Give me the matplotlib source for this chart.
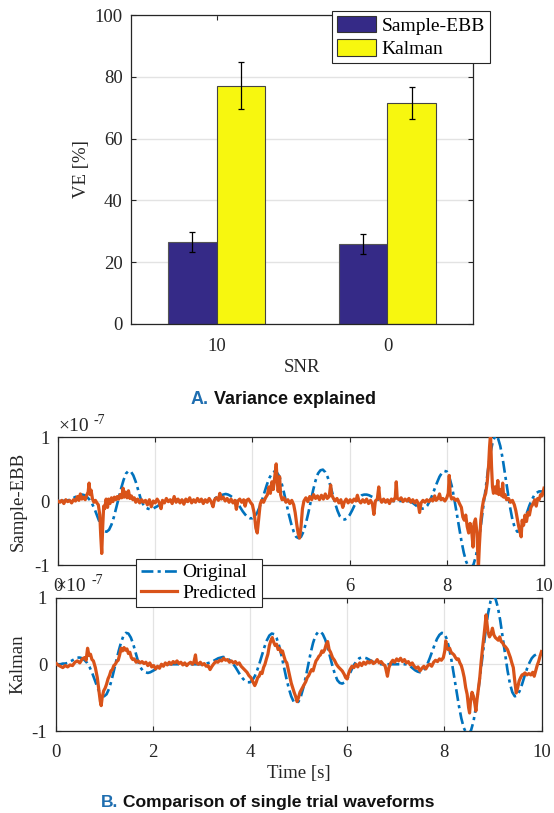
import numpy as np
import matplotlib
matplotlib.use('Agg')
import matplotlib.pyplot as plt
from matplotlib.patches import Patch
from matplotlib.lines import Line2D

# ---------------- data: panel A ----------------
snr_labels = ['10', '0']
ve_sample_ebb = [26.6, 25.9]
ve_sample_ebb_err = [3.2, 3.1]
ve_kalman = [77.1, 71.5]
ve_kalman_err = [7.6, 5.1]

# ---------------- data: panel B (values in units of 1e-7) ----------------
# original waveform sampled every 0.05 s from 0 to 10 s (one row = 0.5 s)
original = [
    0.00, 0.00, 0.00, 0.01, 0.01, 0.02, 0.04, 0.06, 0.08, 0.10,
    0.10, 0.09, 0.06, 0.02, -0.04, -0.12, -0.22, -0.32, -0.41, -0.47,
    -0.48, -0.45, -0.37, -0.25, -0.10, 0.05, 0.20, 0.33, 0.43, 0.47,
    0.46, 0.40, 0.30, 0.17, 0.04, -0.05, -0.10, -0.12, -0.13, -0.12,
    -0.10, -0.08, -0.05, -0.03, -0.01, 0.00, 0.00, 0.00, 0.00, 0.00,
    0.00, 0.00, 0.00, 0.00, 0.00, 0.00, 0.00, 0.00, 0.00, 0.00,
    0.00, 0.00, 0.01, 0.02, 0.03, 0.05, 0.07, 0.09, 0.10, 0.11,
    0.10, 0.08, 0.05, 0.01, -0.04, -0.10, -0.16, -0.21, -0.25, -0.27,
    -0.27, -0.24, -0.18, -0.09, 0.02, 0.14, 0.26, 0.36, 0.43, 0.46,
    0.45, 0.39, 0.28, 0.13, -0.04, -0.21, -0.36, -0.48, -0.56, -0.58,
    -0.56, -0.48, -0.35, -0.19, -0.01, 0.17, 0.32, 0.43, 0.48, 0.49,
    0.45, 0.37, 0.25, 0.11, -0.03, -0.15, -0.24, -0.28, -0.29, -0.27,
    -0.22, -0.15, -0.07, 0.00, 0.05, 0.09, 0.10, 0.10, 0.09, 0.07,
    0.05, 0.03, 0.02, 0.01, 0.00, 0.00, 0.00, 0.00, 0.00, 0.00,
    0.00, 0.00, 0.00, 0.00, 0.00, -0.01, -0.03, -0.06, -0.09, -0.11,
    -0.12, -0.11, -0.07, 0.00, 0.09, 0.19, 0.29, 0.38, 0.44, 0.47,
    0.46, 0.38, 0.24, 0.05, -0.17, -0.40, -0.62, -0.81, -0.95, -1.03,
    -1.05, -0.99, -0.86, -0.65, -0.39, -0.10, 0.20, 0.50, 0.76, 0.94,
    1.02, 0.99, 0.86, 0.66, 0.41, 0.15, -0.09, -0.29, -0.42, -0.48,
    -0.47, -0.40, -0.30, -0.18, -0.07, 0.02, 0.09, 0.13, 0.15, 0.15,
    0.14,
]

# Sample-EBB prediction: (time [s], value)
pred_ebb = [
    (0.00, 0.00), (0.04, -0.02), (0.08, 0.01), (0.12, -0.04), (0.16, 0.02), (0.20, -0.01),
    (0.24, 0.01), (0.28, -0.03), (0.32, 0.02), (0.36, 0.00), (0.40, 0.07), (0.43, 0.01),
    (0.46, 0.11), (0.49, 0.03), (0.52, 0.06), (0.56, 0.02), (0.59, 0.09), (0.62, 0.14),
    (0.64, 0.28), (0.66, 0.10), (0.68, 0.17), (0.71, 0.03), (0.74, -0.02), (0.77, 0.01),
    (0.80, -0.03), (0.83, -0.06), (0.86, -0.22), (0.88, -0.55), (0.90, -0.82), (0.92, -0.40),
    (0.94, -0.08), (0.96, -0.12), (0.99, 0.03), (1.02, -0.10), (1.04, 0.03), (1.07, -0.04),
    (1.10, 0.05), (1.13, -0.01), (1.16, 0.06), (1.19, 0.02), (1.22, 0.07), (1.25, 0.03),
    (1.28, 0.10), (1.31, 0.05), (1.34, 0.20), (1.36, 0.06), (1.39, 0.14), (1.42, 0.05),
    (1.45, 0.16), (1.48, 0.04), (1.51, 0.08), (1.54, 0.02), (1.57, 0.05), (1.60, -0.02),
    (1.64, 0.03), (1.68, -0.03), (1.72, 0.02), (1.76, -0.02), (1.80, 0.01), (1.84, -0.06),
    (1.88, 0.02), (1.92, -0.09), (1.96, 0.00), (2.00, -0.03), (2.04, 0.03), (2.08, -0.02),
    (2.12, -0.12), (2.15, 0.01), (2.19, -0.03), (2.23, 0.04), (2.27, -0.01), (2.31, 0.02),
    (2.35, -0.04), (2.39, 0.07), (2.43, -0.02), (2.47, 0.03), (2.51, -0.03), (2.55, 0.02),
    (2.59, -0.05), (2.63, 0.03), (2.67, -0.01), (2.71, 0.05), (2.75, -0.03), (2.79, 0.02),
    (2.83, -0.02), (2.87, 0.04), (2.91, -0.01), (2.95, 0.03), (2.99, -0.04), (3.03, 0.02),
    (3.07, -0.02), (3.11, 0.04), (3.15, -0.01), (3.19, -0.09), (3.22, 0.02), (3.26, 0.05),
    (3.30, 0.01), (3.33, 0.12), (3.36, 0.03), (3.40, 0.06), (3.44, 0.00), (3.48, 0.04),
    (3.52, -0.02), (3.56, 0.03), (3.60, -0.03), (3.64, 0.01), (3.67, -0.13), (3.70, 0.00),
    (3.74, 0.03), (3.78, -0.02), (3.82, 0.02), (3.85, -0.08), (3.88, 0.01), (3.92, 0.03),
    (3.96, -0.02), (4.00, -0.06), (4.04, -0.20), (4.07, -0.42), (4.10, -0.50), (4.13, -0.28),
    (4.16, -0.05), (4.19, 0.01), (4.23, -0.02), (4.27, 0.05), (4.31, 0.10), (4.34, 0.22),
    (4.37, 0.12), (4.40, 0.30), (4.43, 0.18), (4.46, 0.38), (4.49, 0.58), (4.51, 0.30),
    (4.53, 0.15), (4.56, 0.38), (4.58, 0.10), (4.61, 0.02), (4.65, 0.05), (4.69, -0.02),
    (4.73, 0.02), (4.77, -0.04), (4.81, 0.01), (4.85, -0.06), (4.88, -0.18), (4.91, -0.35),
    (4.94, -0.50), (4.97, -0.58), (5.00, -0.40), (5.03, -0.12), (5.06, 0.00), (5.10, 0.05),
    (5.14, -0.01), (5.18, 0.07), (5.22, 0.02), (5.26, 0.10), (5.30, 0.04), (5.34, 0.08),
    (5.38, 0.02), (5.42, 0.09), (5.46, 0.03), (5.50, 0.11), (5.54, 0.04), (5.58, 0.07),
    (5.61, 0.25), (5.63, 0.10), (5.66, 0.05), (5.70, 0.00), (5.74, 0.04), (5.78, -0.03),
    (5.82, 0.02), (5.86, -0.10), (5.89, -0.02), (5.93, 0.03), (5.97, -0.03), (6.01, 0.02),
    (6.05, -0.02), (6.09, 0.03), (6.13, 0.00), (6.16, 0.09), (6.19, 0.01), (6.23, -0.03),
    (6.27, 0.02), (6.31, -0.02), (6.35, 0.03), (6.39, -0.04), (6.43, 0.01), (6.47, -0.05),
    (6.50, -0.21), (6.53, 0.00), (6.57, 0.03), (6.60, 0.22), (6.62, 0.05), (6.66, -0.02),
    (6.70, 0.03), (6.74, -0.02), (6.78, 0.02), (6.82, -0.04), (6.86, 0.03), (6.90, 0.00),
    (6.94, 0.06), (6.96, 0.30), (6.98, 0.04), (7.02, 0.02), (7.06, 0.05), (7.10, -0.01),
    (7.14, 0.03), (7.18, 0.00), (7.22, 0.04), (7.26, -0.02), (7.30, 0.02), (7.34, -0.03),
    (7.38, 0.01), (7.41, -0.04), (7.44, -0.18), (7.47, -0.03), (7.51, 0.01), (7.55, -0.02),
    (7.59, 0.02), (7.63, -0.01), (7.67, 0.03), (7.71, 0.00), (7.75, 0.08), (7.78, 0.01),
    (7.82, 0.04), (7.85, 0.11), (7.88, 0.02), (7.92, 0.04), (7.96, 0.00), (8.00, 0.05),
    (8.03, 0.12), (8.05, 0.40), (8.07, 0.10), (8.10, 0.03), (8.14, 0.05), (8.18, 0.01),
    (8.22, 0.03), (8.26, -0.04), (8.30, -0.10), (8.33, -0.25), (8.36, -0.30), (8.39, -0.22),
    (8.42, -0.40), (8.45, -0.50), (8.48, -0.35), (8.51, -0.45), (8.54, -0.72), (8.56, -0.35),
    (8.59, -0.28), (8.62, -0.50), (8.65, -1.05), (8.67, -0.70), (8.70, -0.30), (8.73, -0.10),
    (8.76, 0.03), (8.80, 0.12), (8.83, 0.28), (8.86, 0.55), (8.88, 0.85), (8.90, 1.05),
    (8.92, 0.55), (8.94, 0.22), (8.96, 0.12), (8.99, 0.22), (9.02, 0.12), (9.05, 0.32),
    (9.07, 0.10), (9.10, 0.18), (9.13, 0.08), (9.15, 0.28), (9.17, 0.06), (9.20, 0.10),
    (9.23, 0.02), (9.27, 0.04), (9.31, -0.02), (9.35, 0.01), (9.39, -0.06), (9.42, -0.15),
    (9.45, -0.28), (9.48, -0.40), (9.51, -0.50), (9.53, -0.56), (9.55, -0.30), (9.58, -0.38),
    (9.61, -0.22), (9.64, -0.32), (9.67, -0.18), (9.70, -0.22), (9.73, -0.10), (9.77, -0.05),
    (9.81, 0.02), (9.84, -0.08), (9.87, 0.04), (9.90, 0.02), (9.93, 0.10), (9.96, 0.08),
    (10.00, 0.20),
]

# Kalman prediction: (time [s], value)
pred_kalman = [
    (0.00, 0.02), (0.05, -0.01), (0.10, -0.03), (0.15, -0.05), (0.20, -0.02), (0.25, -0.04),
    (0.30, -0.01), (0.35, -0.02), (0.40, 0.03), (0.45, 0.05), (0.50, 0.02), (0.55, 0.08),
    (0.60, 0.10), (0.63, 0.06), (0.66, 0.24), (0.69, 0.13), (0.72, 0.15), (0.75, 0.07),
    (0.78, 0.05), (0.82, -0.05), (0.86, -0.20), (0.89, -0.38), (0.92, -0.55), (0.94, -0.62),
    (0.96, -0.50), (0.99, -0.40), (1.02, -0.36), (1.05, -0.30), (1.08, -0.22), (1.11, -0.17),
    (1.14, -0.10), (1.17, -0.08), (1.20, -0.02), (1.23, 0.00), (1.26, 0.04), (1.29, 0.06),
    (1.32, 0.14), (1.35, 0.24), (1.38, 0.20), (1.41, 0.25), (1.44, 0.21), (1.47, 0.23),
    (1.50, 0.16), (1.53, 0.18), (1.56, 0.10), (1.59, 0.07), (1.62, 0.08), (1.66, 0.03),
    (1.70, 0.05), (1.74, 0.02), (1.78, 0.04), (1.82, 0.01), (1.86, 0.03), (1.90, -0.02),
    (1.94, 0.02), (1.98, -0.04), (2.02, -0.02), (2.06, -0.07), (2.10, -0.03), (2.14, -0.06),
    (2.18, 0.00), (2.22, -0.03), (2.26, 0.02), (2.30, -0.01), (2.34, 0.03), (2.38, 0.00),
    (2.42, 0.04), (2.46, 0.02), (2.50, 0.05), (2.54, 0.01), (2.58, 0.03), (2.62, -0.01),
    (2.66, 0.02), (2.70, -0.02), (2.74, 0.01), (2.78, 0.03), (2.82, 0.00), (2.85, 0.04),
    (2.88, 0.14), (2.90, 0.02), (2.94, 0.00), (2.98, 0.03), (3.02, -0.01), (3.06, 0.01),
    (3.10, -0.03), (3.14, -0.02), (3.18, -0.08), (3.22, -0.03), (3.26, 0.01), (3.30, 0.04),
    (3.34, 0.03), (3.38, 0.06), (3.42, 0.05), (3.46, 0.09), (3.50, 0.06), (3.54, 0.07),
    (3.58, 0.03), (3.62, 0.05), (3.66, 0.02), (3.70, 0.04), (3.74, 0.00), (3.78, 0.02),
    (3.82, -0.03), (3.86, -0.06), (3.90, -0.09), (3.94, -0.12), (3.98, -0.17), (4.02, -0.20),
    (4.06, -0.26), (4.10, -0.32), (4.13, -0.27), (4.16, -0.20), (4.19, -0.18), (4.22, -0.12),
    (4.25, -0.14), (4.28, -0.05), (4.31, 0.00), (4.34, 0.08), (4.37, 0.15), (4.40, 0.28),
    (4.43, 0.35), (4.46, 0.40), (4.49, 0.33), (4.52, 0.28), (4.55, 0.30), (4.58, 0.22),
    (4.61, 0.24), (4.64, 0.18), (4.67, 0.20), (4.70, 0.12), (4.73, 0.05), (4.76, 0.02),
    (4.79, -0.08), (4.82, -0.18), (4.85, -0.28), (4.88, -0.35), (4.91, -0.42), (4.94, -0.48),
    (4.97, -0.56), (5.00, -0.50), (5.03, -0.42), (5.06, -0.38), (5.09, -0.34), (5.12, -0.30),
    (5.15, -0.26), (5.18, -0.20), (5.21, -0.17), (5.24, -0.12), (5.27, -0.08), (5.30, -0.10),
    (5.33, -0.02), (5.36, 0.05), (5.39, 0.08), (5.42, 0.12), (5.45, 0.14), (5.48, 0.20),
    (5.51, 0.18), (5.54, 0.22), (5.57, 0.30), (5.60, 0.34), (5.63, 0.22), (5.66, 0.18),
    (5.70, 0.10), (5.74, 0.06), (5.78, 0.00), (5.82, -0.04), (5.86, -0.07), (5.90, -0.10),
    (5.94, -0.15), (5.97, -0.20), (6.00, -0.22), (6.03, -0.14), (6.06, -0.08), (6.10, -0.03),
    (6.14, -0.05), (6.18, 0.00), (6.22, -0.04), (6.26, 0.02), (6.30, -0.02), (6.34, 0.03),
    (6.38, 0.00), (6.42, 0.04), (6.46, 0.02), (6.50, 0.05), (6.54, 0.01), (6.58, 0.03),
    (6.62, 0.07), (6.66, 0.02), (6.70, 0.04), (6.74, 0.00), (6.78, -0.02), (6.80, -0.08),
    (6.83, -0.18), (6.86, -0.05), (6.90, 0.02), (6.94, 0.06), (6.98, 0.03), (7.02, 0.08),
    (7.06, 0.05), (7.10, 0.09), (7.14, 0.04), (7.18, 0.07), (7.22, 0.02), (7.26, 0.04),
    (7.30, -0.01), (7.34, 0.02), (7.38, -0.03), (7.42, -0.06), (7.46, -0.04), (7.50, -0.10),
    (7.54, -0.06), (7.58, -0.03), (7.62, -0.07), (7.66, -0.02), (7.70, 0.00), (7.74, -0.03),
    (7.78, 0.03), (7.82, 0.06), (7.86, 0.04), (7.90, 0.08), (7.94, 0.06), (7.98, 0.10),
    (8.01, 0.20), (8.03, 0.35), (8.05, 0.25), (8.08, 0.22), (8.11, 0.24), (8.14, 0.18),
    (8.17, 0.16), (8.20, 0.14), (8.23, 0.10), (8.26, 0.07), (8.29, 0.08), (8.32, 0.02),
    (8.35, -0.02), (8.38, -0.10), (8.41, -0.20), (8.44, -0.35), (8.47, -0.45), (8.50, -0.65),
    (8.52, -0.73), (8.54, -0.55), (8.57, -0.42), (8.60, -0.48), (8.63, -0.60), (8.65, -0.70),
    (8.67, -0.55), (8.70, -0.38), (8.73, -0.20), (8.76, 0.05), (8.79, 0.26), (8.82, 0.45),
    (8.84, 0.60), (8.86, 0.74), (8.88, 0.60), (8.90, 0.48), (8.93, 0.41), (8.96, 0.45),
    (8.99, 0.54), (9.02, 0.44), (9.05, 0.40), (9.08, 0.38), (9.11, 0.36), (9.14, 0.41),
    (9.17, 0.34), (9.20, 0.32), (9.23, 0.28), (9.26, 0.26), (9.30, 0.22), (9.33, 0.16),
    (9.36, 0.10), (9.39, 0.02), (9.42, -0.05), (9.45, -0.25), (9.48, -0.43), (9.51, -0.35),
    (9.54, -0.25), (9.57, -0.20), (9.60, -0.16), (9.63, -0.15), (9.66, -0.13), (9.70, -0.16),
    (9.74, -0.14), (9.78, -0.16), (9.82, -0.12), (9.85, -0.18), (9.88, -0.10), (9.91, -0.02),
    (9.94, 0.04), (9.97, 0.12), (10.00, 0.19),
]

time_ticks = [0, 2, 4, 6, 8, 10]
wave_yticks = [-1, 0, 1]
ve_yticks = [0, 20, 40, 60, 80, 100]

# ---------------- style ----------------
plt.rcParams['font.family'] = ['Liberation Serif', 'DejaVu Serif']
plt.rcParams['axes.unicode_minus'] = False
FS = 13.5
AX_COL = '#262626'
GRID_COL = '#e3e3e3'
BLUE_BAR = '#352a87'
YELLOW_BAR = '#f7f70f'
ORIG_COL = '#0072bd'
PRED_COL = '#d95319'
TITLE_BLUE = '#1f6eb0'

W, H = 554, 813
fig = plt.figure(figsize=(W / 100, H / 100), dpi=100)


def px_axes(left, top, right, bottom):
    return fig.add_axes([left / W, 1 - bottom / H, (right - left) / W, (bottom - top) / H])


def style_axes(ax, xpad=6):
    for s in ax.spines.values():
        s.set_color(AX_COL)
        s.set_linewidth(0.9)
    ax.tick_params(direction='in', length=3.5, width=0.8, color=AX_COL,
                   top=True, right=True, labelsize=FS, labelcolor=AX_COL, pad=6)
    ax.tick_params(axis='x', pad=xpad)


# ---------------- panel A ----------------
axA = px_axes(131, 15, 473, 324)
x = np.arange(1, len(snr_labels) + 1)
bw = 0.286
err_kw = dict(elinewidth=0.9, capthick=0.9, ecolor='black')
axA.bar(x - bw / 2, ve_sample_ebb, bw, yerr=ve_sample_ebb_err, color=BLUE_BAR,
        edgecolor='#555555', linewidth=0.8, capsize=2, error_kw=err_kw, zorder=2)
axA.bar(x + bw / 2, ve_kalman, bw, yerr=ve_kalman_err, color=YELLOW_BAR,
        edgecolor='#444444', linewidth=0.8, capsize=2, error_kw=err_kw, zorder=2)
axA.set_xlim(0.5, 2.5)
axA.set_ylim(0, 100)
axA.set_xticks(x)
axA.set_xticklabels(snr_labels)
axA.set_yticks(ve_yticks)
axA.yaxis.grid(True, color=GRID_COL, linewidth=1.0)
axA.set_axisbelow(True)
style_axes(axA, xpad=10)
axA.set_ylabel('VE [%]', fontsize=FS, color=AX_COL)
axA.set_xlabel('SNR', fontsize=FS, color=AX_COL)
axA.yaxis.set_label_coords((90 - 131) / 342, 0.5)
axA.xaxis.set_label_coords(0.5, -(359 - 324) / 309)

handlesA = [Patch(facecolor=BLUE_BAR, edgecolor='#333333', linewidth=0.8, label='Sample-EBB'),
            Patch(facecolor=YELLOW_BAR, edgecolor='#333333', linewidth=0.8, label='Kalman')]
legA = axA.legend(handles=handlesA, loc='upper left', bbox_to_anchor=(332 / W, 1 - 11 / H),
                  bbox_transform=fig.transFigure, fontsize=14, frameon=True, fancybox=False,
                  edgecolor=AX_COL, framealpha=1, borderpad=0.25, handlelength=2.0,
                  handleheight=0.9, handletextpad=0.3, labelspacing=0.25, borderaxespad=0)
legA.get_frame().set_linewidth(0.8)

# ---------------- panel B ----------------
t_orig = np.linspace(0, 10, len(original))
ebb_t = [p[0] for p in pred_ebb]
ebb_v = [p[1] for p in pred_ebb]
kal_t = [p[0] for p in pred_kalman]
kal_v = [p[1] for p in pred_kalman]

axB1 = px_axes(58, 437, 544, 565)
axB2 = px_axes(55.5, 597.5, 541.5, 731)

DASH = (0, (4.5, 1.6, 1.2, 1.6))
for ax, tt, vv, lab in [(axB1, ebb_t, ebb_v, 'Sample-EBB'), (axB2, kal_t, kal_v, 'Kalman')]:
    ax.plot(t_orig, original, color=ORIG_COL, linewidth=1.9, linestyle=DASH, zorder=3)
    ax.plot(tt, vv, color=PRED_COL, linewidth=2.3, zorder=4)
    ax.set_xlim(0, 10)
    ax.set_ylim(-1, 1)
    ax.set_xticks(time_ticks)
    ax.set_yticks(wave_yticks)
    ax.grid(True, color=GRID_COL, linewidth=0.9)
    ax.set_axisbelow(True)
    style_axes(ax, xpad=9)
    ax.set_ylabel(lab, fontsize=FS, color=AX_COL)

axB1.yaxis.set_label_coords((27 - 58) / 486, 0.5)
axB2.yaxis.set_label_coords((26 - 55.5) / 486, 0.5)
axB2.set_xlabel('Time [s]', fontsize=FS, color=AX_COL)
axB2.xaxis.set_label_coords(0.5, -(765 - 731) / 133.5)

# exponent labels
for (x0, yc) in [(58, 426), (55, 586)]:
    fig.text(x0 / W, 1 - yc / H, '\u00d710', fontsize=FS + 0.5, color=AX_COL, ha='left', va='center')
    fig.text((x0 + 36) / W, 1 - (yc - 6) / H, '-7', fontsize=10, color=AX_COL,
             ha='left', va='center')

handlesB = [Line2D([], [], color=ORIG_COL, linewidth=1.9, linestyle=DASH, label='Original'),
            Line2D([], [], color=PRED_COL, linewidth=2.3, label='Predicted')]
legB = fig.legend(handles=handlesB, loc='upper left', bbox_to_anchor=(136 / W, 1 - 559 / H),
                  fontsize=14, frameon=True, fancybox=False, edgecolor=AX_COL, framealpha=1,
                  borderpad=0.25, handlelength=1.85, handletextpad=0.3, labelspacing=0.15,
                  borderaxespad=0)
legB.get_frame().set_linewidth(0.8)
legB.set_zorder(10)

# ---------------- titles ----------------
renderer = fig.canvas.get_renderer()


def two_color_title(cx, cy, first, rest, size):
    t1 = fig.text(0, 1 - cy / H, first, fontsize=size, fontweight='bold', color=TITLE_BLUE,
                  family=['Liberation Sans', 'DejaVu Sans'], va='center', ha='left')
    t2 = fig.text(0, 1 - cy / H, rest, fontsize=size, fontweight='bold', color='#111111',
                  family=['Liberation Sans', 'DejaVu Sans'], va='center', ha='left')
    w1 = t1.get_window_extent(renderer).width
    w2 = t2.get_window_extent(renderer).width
    x0 = cx - (w1 + w2) / 2
    t1.set_x(x0 / W)
    t2.set_x((x0 + w1) / W)


two_color_title(283, 399, 'A.', ' Variance explained', 13)
two_color_title(268, 802, 'B.', ' Comparison of single trial waveforms', 12.6)

fig.savefig('out.png', dpi=100)
